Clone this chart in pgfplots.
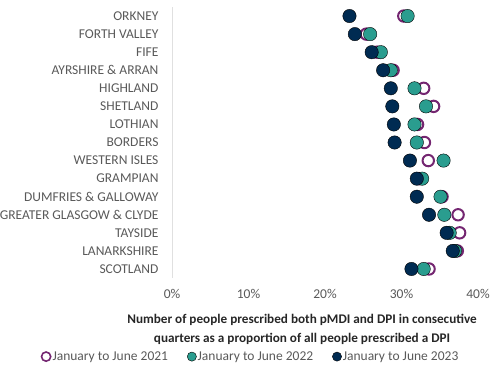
\documentclass[border=0pt]{standalone}
\usepackage{pgfplots}
\pgfplotsset{compat=1.18}
\usepackage{fontspec}
\setmainfont{Carlito}
\definecolor{cpurple}{HTML}{742671}
\definecolor{cteal}{HTML}{2A9D8F}
\definecolor{cnavy}{HTML}{002B52}
\definecolor{ctext}{HTML}{595959}
\begin{document}
\begin{tikzpicture}[x=1pt,y=1pt]
\path[use as bounding box] (0,0) rectangle (500,376);
\begin{axis}[
  at={(172pt,98pt)}, anchor=south west,
  scale only axis, width=306pt, height=271pt,
  xmin=0, xmax=40, ymin=-0.5, ymax=14.5, y dir=reverse,
  axis x line*=bottom, x axis line style={draw=none},
  axis y line*=left, y axis line style={draw=black!12, line width=0.8pt},
  xtick={0,10,20,30,40},
  xticklabels={0\%,10\%,20\%,30\%,40\%},
  ytick={0,...,14},
  yticklabels={ORKNEY,FORTH VALLEY,FIFE,AYRSHIRE \& ARRAN,HIGHLAND,SHETLAND,LOTHIAN,BORDERS,WESTERN ISLES,GRAMPIAN,DUMFRIES \& GALLOWAY,GREATER GLASGOW \& CLYDE,TAYSIDE,LANARKSHIRE,SCOTLAND},
  major tick length=0pt,
  tick label style={font=\fontsize{13.5}{15}\selectfont, text=ctext},
  xticklabel style={yshift=-8pt},
  yticklabel style={xshift=-10pt},
  /pgf/number format/assume math mode=true,
  xlabel={Number of people prescribed both pMDI and DPI in consecutive\\quarters as a proportion of all people prescribed a DPI},
  xlabel style={font=\bfseries\fontsize{13.2}{19}\selectfont, text=black!85, align=center, at={(axis description cs:0.425,0)}, anchor=north, yshift=-33pt},
  legend columns=3,
  legend style={draw=none, fill=none, at={(axis description cs:0.255,-0.29)}, anchor=center, font=\fontsize{13.5}{15}\selectfont, text=ctext, nodes={inner xsep=1pt}, /tikz/every even column/.append style={column sep=18pt}, inner sep=0pt},
  legend cell align=left,
  legend image code/.code={\draw[#1] (0pt,0pt) circle (4.6pt);},
  clip=false,
]
\addplot[only marks, mark=o, mark size=5.7pt, mark options={draw=cpurple, line width=2pt}, draw=cpurple, line width=1.6pt]
coordinates {
(30.3,0) (25.4,1) (26.8,2) (28.9,3) (32.9,4) (34.2,5) (32.1,6) (33.0,7) (33.5,8) (32.3,9) (35.3,10) (37.4,11) (37.6,12) (37.3,13) (33.6,14)
};
\addlegendentry{January to June 2021}
\addplot[only marks, mark=*, mark size=6.7pt, mark options={draw=none, fill=cteal}, fill=cteal, draw=none]
coordinates {
(30.8,0) (25.9,1) (27.3,2) (28.6,3) (31.7,4) (33.2,5) (31.7,6) (32.0,7) (35.5,8) (32.7,9) (35.1,10) (35.6,11) (36.3,12) (37.0,13) (32.9,14)
};
\addlegendentry{January to June 2022}
\addplot[only marks, mark=*, mark size=6.7pt, mark options={draw=none, fill=cnavy}, fill=cnavy, draw=none]
coordinates {
(23.2,0) (23.9,1) (26.1,2) (27.6,3) (28.6,4) (28.8,5) (29.0,6) (29.1,7) (31.1,8) (32.0,9) (32.0,10) (33.6,11) (35.9,12) (36.7,13) (31.3,14)
};
\addlegendentry{January to June 2023}
\end{axis}
\end{tikzpicture}
\end{document}
